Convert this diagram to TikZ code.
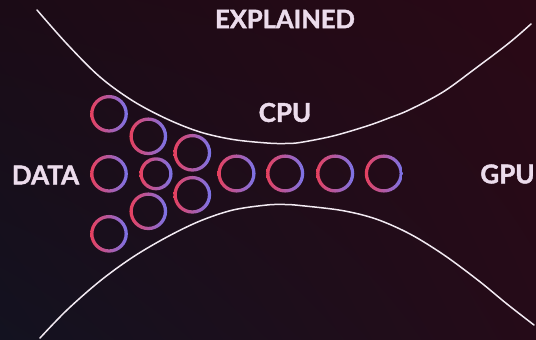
\documentclass[tikz,border=0pt]{standalone}
\usepackage{fontspec}
\usetikzlibrary{shadings}
\newfontfamily\lbl{Lato}[BoldFeatures={FakeBold=1.6}]
\definecolor{bgUL}{HTML}{1B0B16}
\definecolor{bgUR}{HTML}{2A0916}
\definecolor{bgLL}{HTML}{131220}
\definecolor{bgLR}{HTML}{250B18}
\definecolor{txt}{HTML}{ECDCEC}
\definecolor{curvecol}{HTML}{F2EAF2}
\definecolor{ringA}{HTML}{E6405E}
\definecolor{ringB}{HTML}{D24C9E}
\definecolor{ringC}{HTML}{7A74EA}
\tikzset{
  lbltext/.style={text=txt, inner sep=0pt, font=\lbl\bfseries\fontsize{26}{26}\selectfont},
  curveline/.style={draw=curvecol, line width=1.5pt, line cap=round},
  ringanchor/.style={circle, inner sep=0pt, minimum size=#1},
  ringshade/.style={left color=ringA, middle color=ringB, right color=ringC, even odd rule}
}
\newcommand\ringat[4]{%
  \node[ringanchor=#4*2pt] (#1) at (#2,#3) {};
  \shade[ringshade] (#1.center) circle[radius=#4+1.65] (#1.center) circle[radius=#4-1.65];
}
\begin{document}
\begin{tikzpicture}[x=1pt,y=-1pt]
\useasboundingbox (0,0) rectangle (536,340);
\shade[upper left=bgUL, upper right=bgUR, lower left=bgLL, lower right=bgLR] (0,0) rectangle (536,340);
% curves
\draw[curveline] plot[smooth, tension=0.55] coordinates {(37,10) (67,44) (100,77) (133,101) (167,119) (200,132) (233,139.5) (267,143) (285,143.5) (300,142.5) (333,136) (367,126) (389,118) (409,110) (443,92) (476,68) (509,43) (531,24)};
\draw[curveline] plot[smooth, tension=0.55] coordinates {(40,338) (67,310) (100,281) (133,257) (167,237) (200,221) (233,210) (267,205) (285,204.5) (300,205.5) (342,210.5) (376,219) (410,234) (444,255) (479,281) (507,304) (534,325)};
% labels
\node[lbltext, font=\lbl\bfseries\fontsize{25.5}{25.5}\selectfont] (expl) at (285,19) {EXPLAINED};
\node[lbltext] (cpu) at (285,112.5) {CPU};
\node[lbltext] (data) at (45.5,175) {DATA};
\node[lbltext] (gpu) at (507.5,174) {GPU};
% rings
\ringat{a}{109}{113.8}{17.2}
\ringat{b}{148.3}{136.3}{17.2}
\ringat{c}{192.3}{152.8}{17.2}
\ringat{d}{109}{173.8}{17.2}
\ringat{e}{156}{173.8}{14.9}
\ringat{f}{192.3}{194.8}{17.2}
\ringat{g}{148.3}{211.3}{17.2}
\ringat{h}{109}{233.8}{17.2}
\ringat{r1}{236.5}{173.5}{17.4}
\ringat{r2}{285.2}{173.5}{17.4}
\ringat{r3}{335.2}{173.5}{17.4}
\ringat{r4}{383.8}{173.5}{17.4}
\end{tikzpicture}
\end{document}
